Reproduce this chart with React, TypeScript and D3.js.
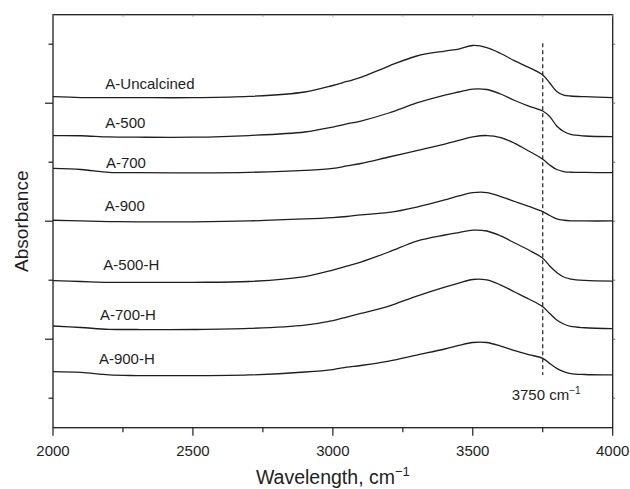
import React, { useEffect, useRef } from "react";
import * as d3 from "d3";

// Wavenumber sampling grid (cm^-1)
const wavenumbers = [
  2000, 2100, 2200, 2300, 2500, 2700, 2900, 3000, 3050, 3100, 3200, 3300, 3400,
  3450, 3500, 3550, 3600, 3650, 3700, 3750, 3775, 3800, 3825, 3850, 3900, 4000,
];

// Offset absorbance spectra, one array per sample
const uncalcined = [
  3.055, 3.048, 3.047, 3.047, 3.047, 3.057, 3.095, 3.15, 3.184, 3.218, 3.315, 3.4, 3.442,
  3.459, 3.489, 3.472, 3.421, 3.358, 3.303, 3.239, 3.171, 3.099, 3.069, 3.061, 3.055, 3.048,
];
const a500 = [
  2.725, 2.724, 2.714, 2.712, 2.712, 2.726, 2.756, 2.798, 2.824, 2.849, 2.917, 3.002, 3.069,
  3.095, 3.12, 3.116, 3.078, 3.023, 2.976, 2.934, 2.887, 2.807, 2.76, 2.735, 2.722, 2.716,
];
const a700 = [
  2.448, 2.438, 2.414, 2.411, 2.41, 2.414, 2.43, 2.447, 2.468, 2.489, 2.544, 2.599, 2.654,
  2.684, 2.714, 2.726, 2.709, 2.66, 2.595, 2.525, 2.476, 2.438, 2.421, 2.415, 2.413, 2.411,
];
const a900 = [
  2.008, 2.003, 1.997, 1.995, 1.995, 2.002, 2.019, 2.031, 2.04, 2.053, 2.074, 2.12, 2.18,
  2.214, 2.242, 2.243, 2.209, 2.167, 2.125, 2.081, 2.048, 2.02, 2.008, 2.003, 2.002, 2.002,
];
const a500H = [
  1.496, 1.489, 1.482, 1.482, 1.482, 1.489, 1.531, 1.586, 1.62, 1.654, 1.739, 1.832, 1.883,
  1.904, 1.924, 1.917, 1.875, 1.815, 1.756, 1.686, 1.62, 1.565, 1.527, 1.51, 1.499, 1.493,
];
const a700H = [
  1.112, 1.099, 1.084, 1.082, 1.082, 1.091, 1.12, 1.158, 1.188, 1.218, 1.281, 1.366, 1.442,
  1.476, 1.506, 1.502, 1.459, 1.4, 1.341, 1.275, 1.218, 1.163, 1.129, 1.108, 1.097, 1.089,
];
const a900H = [
  0.725, 0.718, 0.697, 0.692, 0.691, 0.697, 0.722, 0.743, 0.764, 0.777, 0.815, 0.866, 0.917,
  0.947, 0.972, 0.972, 0.942, 0.904, 0.87, 0.838, 0.794, 0.753, 0.726, 0.709, 0.701, 0.697,
];

const seriesNames = ["A-Uncalcined", "A-500", "A-700", "A-900", "A-500-H", "A-700-H", "A-900-H"];
const seriesValues = [uncalcined, a500, a700, a900, a500H, a700H, a900H];
// Label anchors (wavenumber, absorbance of text baseline)
const labelX = [2187, 2187, 2189, 2185, 2180, 2168, 2164];
const labelY = [3.118, 2.787, 2.453, 2.089, 1.586, 1.163, 0.79];

const xTicks = [2000, 2250, 2500, 2750, 3000, 3250, 3500, 3750, 4000];
const xTickLabels = ["2000", "", "2500", "", "3000", "", "3500", "", "4000"];
const yTicks = [0.5, 1, 1.5, 2, 2.5, 3, 3.5];

const markerWavenumber = 3750;
const markerRange = [0.697, 3.508];
const markerLabelPos = [3639, 0.485];

const W = 630;
const H = 489;
const margin = { top: 14.7, right: 17.3, bottom: 61.3, left: 53 };
const FONT = "'Liberation Sans', Arial, Helvetica, sans-serif";
const INK = "#1e1e1e";

export default function App() {
  const ref = useRef<SVGSVGElement>(null);

  useEffect(() => {
    const svg = d3.select(ref.current);
    svg.selectAll("*").remove();

    const x = d3
      .scaleLinear()
      .domain([2000, 4000])
      .range([margin.left, W - margin.right]);
    const y = d3
      .scaleLinear()
      .domain([0.25, 3.75])
      .range([H - margin.bottom, margin.top]);

    const x0 = x.range()[0];
    const x1 = x.range()[1];
    const y0 = y.range()[0];
    const y1 = y.range()[1];

    // spectra
    const line = d3
      .line<[number, number]>()
      .x((d) => x(d[0]))
      .y((d) => y(d[1]))
      .curve(d3.curveCatmullRom.alpha(0.5));

    seriesValues.forEach((vals) => {
      const pts = wavenumbers.map((w, i) => [w, vals[i]] as [number, number]);
      svg
        .append("path")
        .attr("d", line(pts) as string)
        .attr("fill", "none")
        .attr("stroke", INK)
        .attr("stroke-width", 1.3)
        .attr("stroke-linejoin", "round");
    });

    // series labels
    seriesNames.forEach((name, i) => {
      svg
        .append("text")
        .attr("x", x(labelX[i]))
        .attr("y", y(labelY[i]))
        .attr("font-family", FONT)
        .attr("font-size", 15)
        .attr("fill", INK)
        .text(name);
    });

    // dashed marker at 3750 cm^-1
    svg
      .append("line")
      .attr("x1", x(markerWavenumber))
      .attr("x2", x(markerWavenumber))
      .attr("y1", y(markerRange[1]))
      .attr("y2", y(markerRange[0]))
      .attr("stroke", INK)
      .attr("stroke-width", 1.2)
      .attr("stroke-dasharray", "4,3");

    const mk = svg
      .append("text")
      .attr("x", x(markerLabelPos[0]))
      .attr("y", y(markerLabelPos[1]))
      .attr("font-family", FONT)
      .attr("font-size", 15)
      .attr("fill", INK);
    mk.append("tspan").text("3750 cm");
    mk.append("tspan").attr("dy", -6).attr("font-size", 10).text("\u22121");

    // frame
    svg
      .append("rect")
      .attr("x", x0)
      .attr("y", y1)
      .attr("width", x1 - x0)
      .attr("height", y0 - y1)
      .attr("fill", "none")
      .attr("stroke", INK)
      .attr("stroke-width", 1.3);

    // bottom axis ticks
    xTicks.forEach((t, i) => {
      const major = t % 500 === 0;
      svg
        .append("line")
        .attr("x1", x(t))
        .attr("x2", x(t))
        .attr("y1", y0)
        .attr("y2", y0 + (major ? 8 : 4.5))
        .attr("stroke", INK)
        .attr("stroke-width", 1.2);
      // small ticks on top edge
      svg
        .append("line")
        .attr("x1", x(t))
        .attr("x2", x(t))
        .attr("y1", y1)
        .attr("y2", y1 + 2)
        .attr("stroke", "#888")
        .attr("stroke-width", 1);
      if (xTickLabels[i]) {
        svg
          .append("text")
          .attr("x", x(t))
          .attr("y", y0 + 28)
          .attr("text-anchor", "middle")
          .attr("font-family", FONT)
          .attr("font-size", 15)
          .attr("fill", INK)
          .text(xTickLabels[i]);
      }
    });

    // left / right ticks
    yTicks.forEach((t) => {
      const major = Number.isInteger(t);
      svg
        .append("line")
        .attr("x1", x0)
        .attr("x2", x0 - (major ? 8 : 4.5))
        .attr("y1", y(t))
        .attr("y2", y(t))
        .attr("stroke", INK)
        .attr("stroke-width", 1.2);
      svg
        .append("line")
        .attr("x1", x1)
        .attr("x2", x1 + 2.5)
        .attr("y1", y(t))
        .attr("y2", y(t))
        .attr("stroke", "#666")
        .attr("stroke-width", 1);
    });

    // axis titles
    const xt = svg
      .append("text")
      .attr("x", (x0 + x1) / 2)
      .attr("y", 484)
      .attr("text-anchor", "middle")
      .attr("font-family", FONT)
      .attr("font-size", 19.5)
      .attr("fill", INK);
    xt.append("tspan").text("Wavelength, cm");
    xt.append("tspan").attr("dy", -8).attr("font-size", 13).text("\u22121");

    svg
      .append("text")
      .attr("transform", `translate(28,${(y0 + y1) / 2}) rotate(-90)`)
      .attr("text-anchor", "middle")
      .attr("font-family", FONT)
      .attr("font-size", 19)
      .attr("fill", INK)
      .text("Absorbance");
  }, []);

  return (
    <svg
      ref={ref}
      width={W}
      height={H}
      style={{ position: "absolute", left: 0, top: 0, background: "#fff" }}
    />
  );
}
